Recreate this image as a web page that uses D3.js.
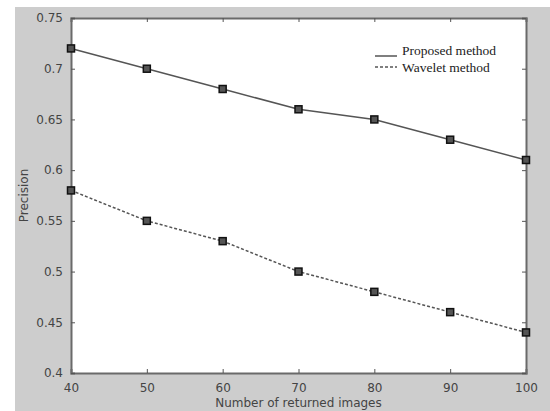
<!DOCTYPE html>
<html>
<head>
<meta charset="utf-8">
<script src="https://cdn.jsdelivr.net/npm/d3@7"></script>
<style>
  body { margin: 0; background: #fff; }
  svg { display: block; }
</style>
</head>
<body>
<svg id="chart" width="550" height="411"></svg>
<script>
// values
var returned = [40, 50, 60, 70, 80, 90, 100];
var proposed = [0.72, 0.70, 0.68, 0.66, 0.65, 0.63, 0.61];
var wavelet = [0.58, 0.55, 0.53, 0.50, 0.48, 0.46, 0.44];
var xTicks = [40, 50, 60, 70, 80, 90, 100];
var yTicks = [0.4, 0.45, 0.5, 0.55, 0.6, 0.65, 0.7, 0.75];
var seriesNames = ["Proposed method", "Wavelet method"];

(function() {
var svg = d3.select("#chart");
var pLeft = 71, pRight = 526, pTop = 18, pBottom = 373;

// grey figure background
svg.append("rect")
  .attr("x", 15).attr("y", 7)
  .attr("width", 535).attr("height", 404)
  .attr("fill", "#cdcdcd");

svg.append("rect")
  .attr("x", pLeft).attr("y", pTop)
  .attr("width", pRight - pLeft).attr("height", pBottom - pTop)
  .attr("fill", "#fff");

var x = d3.scaleLinear().domain([40, 100]).range([pLeft, pRight]);
var y = d3.scaleLinear().domain([0.4, 0.75]).range([pBottom, pTop]);

var tickColor = "#555";
var labelColor = "#444";

// axes, ticks pointing inwards like matlab
var xAxis = svg.append("g")
  .attr("transform", "translate(0," + pBottom + ")")
  .call(d3.axisBottom(x).tickValues(xTicks).tickSize(-4).tickPadding(10).tickFormat(d3.format("d")));
var xTop = svg.append("g")
  .attr("transform", "translate(0," + pTop + ")")
  .call(d3.axisTop(x).tickValues(xTicks).tickSize(-4).tickFormat(""));
var yAxis = svg.append("g")
  .attr("transform", "translate(" + pLeft + ",0)")
  .call(d3.axisLeft(y).tickValues(yTicks).tickSize(-4).tickPadding(8).tickFormat(function(d) { return String(+d.toFixed(2)); }));
var yRight = svg.append("g")
  .attr("transform", "translate(" + pRight + ",0)")
  .call(d3.axisRight(y).tickValues(yTicks).tickSize(-4).tickFormat(""));

[xAxis, xTop, yAxis, yRight].forEach(function(g) {
  g.select(".domain").attr("stroke", "#6a6a6a").attr("stroke-width", 2);
  g.selectAll(".tick line").attr("stroke", tickColor);
  g.selectAll(".tick text")
    .attr("fill", labelColor)
    .style("font-family", "'DejaVu Sans', sans-serif")
    .style("font-size", "12px");
});

// line series
var line = d3.line()
  .x(function(d, i) { return x(returned[i]); })
  .y(function(d) { return y(d); });

var series = [
  { name: seriesNames[0], values: proposed, dash: null },
  { name: seriesNames[1], values: wavelet, dash: "3,2" }
];

series.forEach(function(s) {
  svg.append("path")
    .datum(s.values)
    .attr("d", line)
    .attr("fill", "none")
    .attr("stroke", "#555")
    .attr("stroke-width", 1.5)
    .attr("stroke-dasharray", s.dash);

  svg.selectAll(null)
    .data(s.values)
    .enter().append("rect")
    .attr("x", function(d, i) { return x(returned[i]) - 3.5; })
    .attr("y", function(d) { return y(d) - 3.5; })
    .attr("width", 7).attr("height", 7)
    .attr("fill", "#555")
    .attr("stroke", "#111")
    .attr("stroke-width", 1.5);
});

// legend (matlab-ish: first sample sits a bit below its text)
var legend = svg.append("g").attr("transform", "translate(375,0)");
var legendText = [50, 67], legendLine = [56, 67];
series.forEach(function(s, i) {
  legend.append("line")
    .attr("x1", 0).attr("x2", 22)
    .attr("y1", legendLine[i]).attr("y2", legendLine[i])
    .attr("stroke", "#555")
    .attr("stroke-width", 1.5)
    .attr("stroke-dasharray", s.dash);
  legend.append("text")
    .attr("x", 27).attr("y", legendText[i])
    .attr("dy", "0.35em")
    .attr("fill", "#222")
    .style("font-family", "'Liberation Serif', serif")
    .style("font-size", "13.5px")
    .text(s.name);
});

// axis titles
svg.append("text")
  .attr("x", (pLeft + pRight) / 2).attr("y", 407)
  .attr("text-anchor", "middle")
  .attr("fill", labelColor)
  .style("font-family", "'DejaVu Sans', sans-serif")
  .style("font-size", "12px")
  .text("Number of returned images");

svg.append("text")
  .attr("transform", "translate(28," + ((pTop + pBottom) / 2) + ") rotate(-90)")
  .attr("text-anchor", "middle")
  .attr("fill", labelColor)
  .style("font-family", "'DejaVu Sans', sans-serif")
  .style("font-size", "12px")
  .text("Precision");
})();
</script>
</body>
</html>
